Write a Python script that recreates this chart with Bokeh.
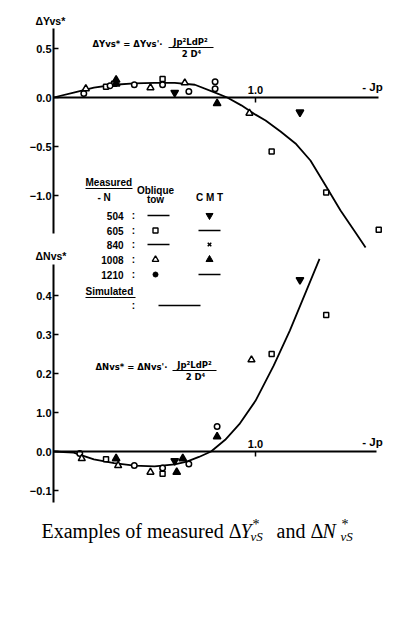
from bokeh.plotting import figure
from bokeh.models import Range1d, LinearAxis, FixedTicker, Label
from bokeh.embed import file_html
from bokeh.resources import INLINE

# ---------------- data: upper panel  (ΔYvs*) ----------------
simY_x = [0.0, 0.1, 0.2, 0.3, 0.4, 0.5, 0.6, 0.7, 0.8, 0.86, 0.93, 1.0, 1.05, 1.124, 1.198, 1.272, 1.347, 1.421, 1.495, 1.545]
simY_y = [0.0, 0.05, 0.10, 0.13, 0.145, 0.15, 0.15, 0.13, 0.05, 0.0, -0.08, -0.175, -0.235, -0.347, -0.469, -0.643, -0.898, -1.153, -1.378, -1.531]

Y605_x = [0.26, 0.30, 0.54, 1.08, 1.35, 1.61]
Y605_y = [0.11, 0.14, 0.19, -0.55, -0.97, -1.35]
Y1210_x = [0.15, 0.28, 0.40, 0.54, 0.67, 0.80, 0.80]
Y1210_y = [0.04, 0.12, 0.13, 0.13, 0.06, 0.16, 0.09]
Y1008o_x = [0.16, 0.48, 0.65, 0.97]
Y1008o_y = [0.09, 0.10, 0.15, -0.16]
Y1008c_x = [0.31, 0.31, 0.81]
Y1008c_y = [0.18, 0.14, -0.06]
Y504c_x = [0.60, 1.22]
Y504c_y = [0.05, -0.15]

# ---------------- data: lower panel  (ΔNvs*) ----------------
simN_x = [0.0, 0.1, 0.2, 0.3, 0.4, 0.5, 0.6, 0.66, 0.72, 0.78, 0.85, 0.92, 1.0, 1.09, 1.17, 1.25, 1.317]
simN_y = [0.0, -0.003, -0.02, -0.03, -0.036, -0.038, -0.033, -0.026, -0.014, 0.0, 0.03, 0.07, 0.13, 0.22, 0.31, 0.41, 0.494]

N605_x = [0.26, 0.54, 1.08, 1.35]
N605_y = [-0.02, -0.057, 0.25, 0.35]
N1210_x = [0.13, 0.40, 0.54, 0.67, 0.81]
N1210_y = [-0.005, -0.036, -0.042, -0.032, 0.064]
N1008o_x = [0.14, 0.32, 0.48, 0.98]
N1008o_y = [-0.018, -0.036, -0.053, 0.235]
N1008c_x = [0.31, 0.61, 0.64, 0.81]
N1008c_y = [-0.018, -0.053, -0.018, 0.038]
N504c_x = [0.60, 1.22]
N504c_y = [-0.024, 0.44]

# tick values / labels
Y_ticks = [-1.0, -0.5, 0.0, 0.5]
Y_labels = ["−1.0", "−0.5", "0.0", "0.5"]
N_ticks = [-0.1, 0.0, 0.1, 0.2, 0.3, 0.4]
N_labels = ["−0.1", "0.0", "1.0", "0.2", "0.3", "0.4"]
X_ticks = [1.0]
X_labels = ["1.0"]

legend_N = ["504", "605", "840", "1008", "1210"]

# ---------------- geometry (page pixels -> data) ----------------
OFF = 0
W, H = 404, 570
X0, XS = 53.0, 202.0      # page x of J=0, px per unit
YT0, YTS = 97.0, 98.0     # upper panel: page y of 0, px per unit
YN0, YNS = 451.0, 390.0   # lower panel


def dx(px):
    return (px - X0) / XS


def dy(py):
    return (YT0 - py) / YTS


p = figure(width=W, height=H, output_backend="svg", toolbar_location=None,
           x_axis_location=None, y_axis_location=None, min_border=0,
           x_range=Range1d(dx(OFF), dx(OFF + W)), y_range=Range1d(dy(OFF + H), dy(OFF)))
p.extra_y_ranges = {"N": Range1d((YN0 - (OFF + H)) / YNS, (YN0 - OFF) / YNS)}
p.grid.visible = False
p.outline_line_color = None
p.background_fill_color = "white"
p.border_fill_color = "white"

TICK_FONT = "Liberation Sans"


def style_axis(ax, labels):
    ax.axis_line_width = 2
    ax.axis_line_color = "black"
    ax.major_tick_line_width = 1.5
    ax.major_tick_line_color = "black"
    ax.minor_tick_line_color = None
    ax.major_label_text_font = TICK_FONT
    ax.major_label_text_font_style = "bold"
    ax.major_label_text_font_size = "11px"
    ax.major_label_text_color = "black"
    ax.major_label_overrides = labels


# y axes
ayT = LinearAxis(fixed_location=0, bounds=(-1.39, 0.70), ticker=FixedTicker(ticks=Y_ticks))
style_axis(ayT, dict(zip(Y_ticks, Y_labels)))
ayT.major_tick_out = 0
ayT.major_tick_in = 5
ayT.major_label_standoff = 2
p.add_layout(ayT, "left")

ayN = LinearAxis(fixed_location=0, y_range_name="N", bounds=(-0.13, 0.48), ticker=FixedTicker(ticks=N_ticks))
style_axis(ayN, dict(zip(N_ticks, N_labels)))
ayN.major_tick_out = 0
ayN.major_tick_in = 5
ayN.major_label_standoff = 2
p.add_layout(ayN, "left")

# x axes
axT = LinearAxis(fixed_location=0, bounds=(0, 1.61), ticker=FixedTicker(ticks=X_ticks))
style_axis(axT, dict(zip(X_ticks, X_labels)))
axT.major_tick_out = 0
axT.major_tick_in = 5
axT.major_label_standoff = 4
p.add_layout(axT, "above")

axN = LinearAxis(fixed_location=0, y_range_name="N", bounds=(0, 1.6), ticker=FixedTicker(ticks=X_ticks))
style_axis(axN, dict(zip(X_ticks, X_labels)))
axN.major_tick_out = 0
axN.major_tick_in = 5
axN.major_label_standoff = 4
p.add_layout(axN, "above")

# ---------------- simulated curves ----------------
p.line(simY_x, simY_y, line_color="black", line_width=1.8, line_join="round")
p.line(simN_x, simN_y, line_color="black", line_width=1.8, line_join="round", y_range_name="N")

# ---------------- measured points ----------------
def pts(x, y, marker, size, filled, rn="default"):
    kw = dict(marker=marker, size=size, line_color="black", line_width=1.5,
              fill_color="black" if filled else "white")
    if rn != "default":
        kw["y_range_name"] = rn
    p.scatter(x, y, **kw)


for rn, d in (("default", (Y605_x, Y605_y, Y1210_x, Y1210_y, Y1008o_x, Y1008o_y, Y1008c_x, Y1008c_y, Y504c_x, Y504c_y)),
              ("N", (N605_x, N605_y, N1210_x, N1210_y, N1008o_x, N1008o_y, N1008c_x, N1008c_y, N504c_x, N504c_y))):
    pts(d[0], d[1], "square", 5, False, rn)
    pts(d[2], d[3], "circle", 5.5, False, rn)
    pts(d[4], d[5], "triangle", 7, False, rn)
    pts(d[6], d[7], "triangle", 7.5, True, rn)
    pts(d[8], d[9], "inverted_triangle", 7.5, True, rn)


# ---------------- texts ----------------
def lab(text, px, py, size=10, align="left", font="Liberation Sans", style="bold"):
    p.add_layout(Label(x=dx(px), y=dy(py), text=text, text_align=align, text_baseline="middle",
                       text_font=font, text_font_style=style, text_font_size=f"{size}px",
                       text_color="black"))


def hline(px1, px2, py, w=1.3):
    p.line([dx(px1), dx(px2)], [dy(py), dy(py)], line_color="black", line_width=w)


# axis titles
lab("ΔYvs*", 35, 20, 10.5)
lab("ΔNvs*", 35, 255, 10.5)
lab("- Jp", 372, 86, 11.5, "center")
lab("- Jp", 372, 441, 11.5, "center")

# formulas
FF = "DejaVu Sans"
lab("ΔYvs* = ΔYvs'·", 92, 43, 8.5, font=FF)
lab("Jp²LdP²", 190, 41, 8.5, "center", font=FF)
hline(168, 213, 47, 1.2)
lab("2 D⁴", 191, 53, 8.5, "center", font=FF)

lab("ΔNvs* = ΔNvs'·", 95, 366, 8.5, font=FF)
lab("Jp²LdP²", 194, 364, 8.5, "center", font=FF)
hline(172, 216, 370, 1.2)
lab("2 D⁴", 195, 376, 8.5, "center", font=FF)

# legend block
lab("Measured", 85, 182, 10)
hline(85, 132, 188, 1.2)
lab("- N", 97, 197, 10)
lab("Oblique", 155, 190, 10, "center")
lab("tow", 155, 199, 10, "center")
lab("C M T", 209, 197, 10, "center")
rows_y = [215, 230, 244, 259, 274]
for n, ry in zip(legend_N, rows_y):
    lab(n, 123, ry, 10, "right")
    lab(":", 133, ry, 10, "center")
lab("Simulated", 85, 291, 10)
hline(85, 135, 297, 1.2)
lab(":", 133, 305, 10, "center")
hline(158, 200, 305, 1.6)

# legend symbols
hline(147, 169, 215)
p.scatter([dx(155)], [dy(230)], marker="square", size=5, line_color="black", line_width=1.4, fill_color="white")
hline(147, 169, 244)
p.scatter([dx(155)], [dy(259)], marker="triangle", size=6.5, line_color="black", line_width=1.4, fill_color="white")
p.scatter([dx(155)], [dy(274)], marker="circle", size=5, line_color="black", fill_color="black")
p.scatter([dx(209)], [dy(215)], marker="inverted_triangle", size=7, line_color="black", fill_color="black")
hline(198, 220, 230)
p.scatter([dx(209)], [dy(244)], marker="x", size=5, line_color="black", line_width=1.5)
p.scatter([dx(209)], [dy(259)], marker="triangle", size=7, line_color="black", fill_color="black")
hline(198, 220, 274)

# caption
CF = "Liberation Serif"
lab("Examples of measured Δ", 241, 530, 20, "right", CF, "normal")
lab("Y", 240, 530, 20, "left", CF, "italic")
lab("*", 252, 524, 14, "left", CF, "normal")
lab("vS", 250, 536, 13, "left", CF, "italic")
lab("and Δ", 276, 530, 20, "left", CF, "normal")
lab("N", 322, 530, 20, "left", CF, "italic")
lab("*", 341, 524, 14, "left", CF, "normal")
lab("vS", 340, 536, 13, "left", CF, "italic")

open("out.html", "w").write(file_html(p, INLINE))
